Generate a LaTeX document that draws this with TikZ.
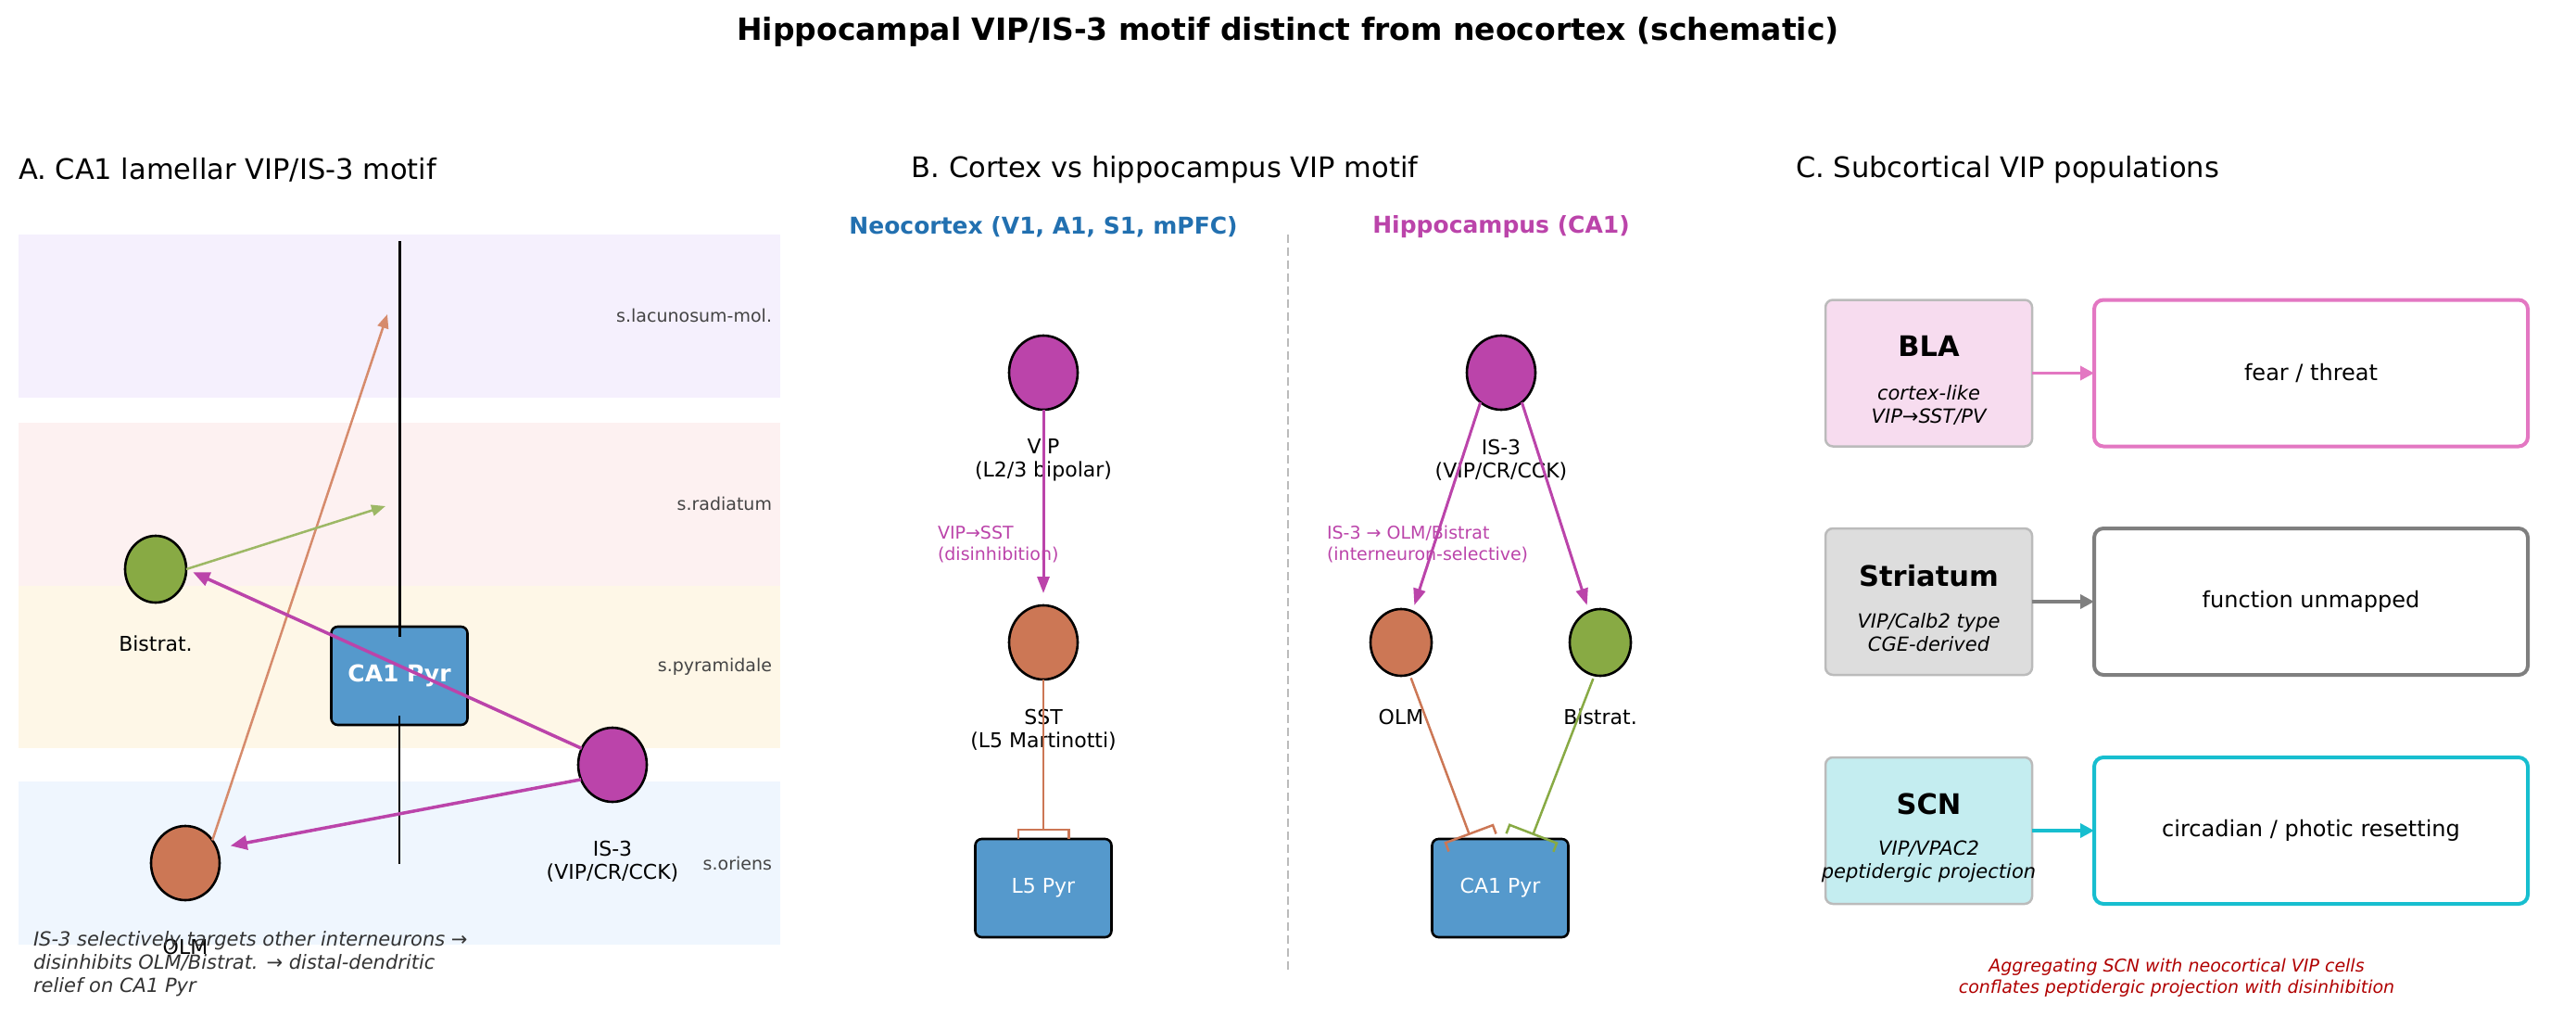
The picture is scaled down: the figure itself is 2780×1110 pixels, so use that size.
\documentclass[tikz,border=0pt]{standalone}
\usepackage{fontspec}
\setmainfont{DejaVu Sans}
\usetikzlibrary{arrows.meta,shapes.geometric,calc}
\definecolor{mag}{HTML}{BB44AA}
\definecolor{olmc}{HTML}{CC7755}
\definecolor{olml}{HTML}{D68B6C}
\definecolor{bisc}{HTML}{88AA44}
\definecolor{bisl}{HTML}{9DB865}
\definecolor{pyrblue}{HTML}{5599CC}
\definecolor{neoblue}{HTML}{2270B0}
\definecolor{bandL}{HTML}{F5F0FD}
\definecolor{bandR}{HTML}{FDF1F1}
\definecolor{bandP}{HTML}{FEF7E7}
\definecolor{bandO}{HTML}{EFF6FE}
\definecolor{laygray}{HTML}{444444}
\definecolor{capgray}{HTML}{333333}
\definecolor{sepgray}{HTML}{BBBBBB}
\definecolor{blaF}{HTML}{F7DCEF}
\definecolor{blaE}{HTML}{E377C2}
\definecolor{strF}{HTML}{DDDDDD}
\definecolor{strE}{HTML}{7F7F7F}
\definecolor{scnF}{HTML}{C4EDF0}
\definecolor{scnE}{HTML}{17BECF}
\definecolor{boxgray}{HTML}{BBBBBB}
\definecolor{warnred}{HTML}{B00000}
\begin{document}
\begin{tikzpicture}[x=1pt,y=-1pt,
  every node/.style={inner sep=0pt, outer sep=0pt},
  ptitle/.style={font=\fontsize{30.5}{36}\selectfont},
  cell/.style={ellipse, draw=black, line width=2.6pt, minimum width=74pt, minimum height=80pt},
  cellsm/.style={cell, minimum width=66pt, minimum height=72pt},
  pyr/.style={rectangle, rounded corners=7pt, draw=black, line width=2.6pt, fill=pyrblue, text=white, minimum width=147pt, minimum height=106pt},
  lay/.style={anchor=east, text=laygray, font=\fontsize{19}{23}\selectfont},
  cl/.style={align=center, font=\fontsize{22}{25}\selectfont},
  hdr/.style={font=\bfseries\fontsize{25}{30}\selectfont},
  note/.style={anchor=west, align=left, text=mag, font=\fontsize{19}{23}\selectfont},
  magA/.style={mag, line width=3.5pt, -{Triangle[length=18pt,width=15pt]}},
  thinA/.style={line width=2.5pt, -{Triangle[length=15pt,width=12pt]}},
  magB/.style={mag, line width=3pt, -{Triangle[length=18pt,width=13pt]}},
  inh/.style={line width=2.5pt, -{Bracket[reversed,width=57pt,length=10pt]}},
  lbox/.style={rectangle, rounded corners=8pt, draw=boxgray, line width=2.5pt, minimum width=223pt, minimum height=158pt},
  rbox/.style={rectangle, rounded corners=10pt, line width=4pt, fill=white, minimum width=468pt, minimum height=158pt, font=\fontsize{24}{28}\selectfont},
  rname/.style={font=\bfseries\fontsize{30.5}{36}\selectfont},
  rsub/.style={align=center, font=\itshape\fontsize{21}{25}\selectfont},
  carrow/.style={line width=3.5pt, -{Triangle[length=15pt,width=15pt]}}
]
\useasboundingbox (0,0) rectangle (2780,1110);
% titles
\node[font=\bfseries\fontsize{33}{40}\selectfont] (title) at (1390,34) {Hippocampal VIP/IS-3 motif distinct from neocortex (schematic)};
\node[ptitle, anchor=west] (tA) at (20,183) {A. CA1 lamellar VIP/IS-3 motif};
\node[ptitle] (tB) at (1257,183) {B. Cortex vs hippocampus VIP motif};
\node[ptitle, anchor=west] (tC) at (1938,183) {C. Subcortical VIP populations};

% ---------- Panel A ----------
\fill[bandL] (20,253) rectangle (842,429);
\fill[bandR] (20,456) rectangle (842,632);
\fill[bandP] (20,632) rectangle (842,807);
\fill[bandO] (20,843) rectangle (842,1019);
\node[lay] (lLM) at (833,340) {s.lacunosum-mol.};
\node[lay] (lRad) at (833,543) {s.radiatum};
\node[lay] (lPyr) at (833,719) {s.pyramidale};
\node[lay] (lOri) at (833,931) {s.oriens};

\node[pyr, font=\bfseries\fontsize{25}{30}\selectfont] (pyrA) at (431,729) {CA1 Pyr};
\coordinate (apTop) at (431,260);
\coordinate (basBot) at (431,932);
\draw[line width=3pt] (apTop) -- ($(pyrA.north)+(0,11)$);
\draw[line width=2pt] ($(pyrA.south)+(0,-10)$) -- (basBot);

\node[cellsm, fill=bisc] (bisA) at (168,614) {};
\node[cell, fill=olmc] (olmA) at (200,931) {};
\node[cell, fill=mag] (isA) at (661,825) {};
\node[cl] (bisAl) at (168,694) {Bistrat.};
\node[cl] (olmAl) at (200,1021) {OLM};
\node[cl] (isAl) at (661,929.5) {IS-3\\(VIP/CR/CCK)};

\coordinate (lmT) at (418,339);
\coordinate (radT) at (416,546);
\draw[thinA, olml] (olmA.40) -- (lmT);
\draw[thinA, bisl] (bisA.east) -- (radT);
\draw[magA, shorten >=8pt] (isA.152) -- (bisA.east);
\draw[magA, shorten >=15pt] (isA.205) -- (olmA.25);

\node[anchor=west, align=left, text=capgray, font=\itshape\fontsize{21}{25}\selectfont] (capA) at (36,1040) {IS-3 selectively targets other interneurons →\\disinhibits OLM/Bistrat. → distal-dendritic\\relief on CA1 Pyr};

% ---------- Panel B ----------
\node[hdr, text=neoblue] (hN) at (1126,245) {Neocortex (V1, A1, S1, mPFC)};
\node[hdr, text=mag] (hH) at (1620,245) {Hippocampus (CA1)};
\coordinate (sepT) at (1390,253);
\coordinate (sepB) at (1390,1046);
\draw[sepgray, line width=1.5pt, dash pattern=on 9pt off 5pt] (sepT) -- (sepB);

\node[cell, fill=mag] (vipB) at (1126,402) {};
\node[cell, fill=olmc] (sstB) at (1126,693) {};
\node[pyr, font=\fontsize{22}{26}\selectfont] (l5B) at (1126,958) {L5 Pyr};
\node[cell, fill=mag] (isB) at (1620,402) {};
\node[cellsm, fill=olmc] (olmB) at (1512,693) {};
\node[cellsm, fill=bisc] (bisB) at (1727,693) {};
\node[pyr, font=\fontsize{22}{26}\selectfont] (caB) at (1619,958) {CA1 Pyr};

\node[cl] (vipBl) at (1126,496.5) {VIP\\(L2/3 bipolar)};
\node[cl] (sstBl) at (1126,787.5) {SST\\(L5 Martinotti)};
\node[cl] (isBl) at (1620,496.5) {IS-3\\(VIP/CR/CCK)};
\node[cl] (olmBl) at (1512,773) {OLM};
\node[cl] (bisBl) at (1727,773) {Bistrat.};
\node[note] (nN) at (1012,587.5) {VIP→SST\\(disinhibition)};
\node[note] (nH) at (1432,587.5) {IS-3 → OLM/Bistrat\\(interneuron-selective)};

\draw[magB, shorten >=13pt] (vipB.south) -- (sstB.north);
\draw[magB, shorten >=7pt] (isB.235) -- (olmB.70);
\draw[magB, shorten >=7pt] (isB.305) -- (bisB.110);

\coordinate (caBl) at (1589,909);
\coordinate (caBr) at (1651,909);
\draw[inh, olmc] (sstB.south) -- (l5B.north);
\draw[inh, olmc, shorten <=4pt] (olmB.285) -- (caBl);
\draw[inh, bisc, shorten <=4pt] (bisB.260) -- (caBr);

% ---------- Panel C ----------
\node[lbox, fill=blaF] (bla) at (2081.5,402.5) {};
\node[rbox, draw=blaE] (blaR) at (2494,402.5) {fear / threat};
\node[rname] (blaN) at (2081.5,373) {BLA};
\node[rsub] (blaS) at (2081.5,436.5) {cortex-like\\VIP→SST/PV};
\draw[carrow, blaE] (bla.east) -- (blaR.west);

\node[lbox, fill=strF] (str) at (2081.5,649) {};
\node[rbox, draw=strE] (strR) at (2494,649) {function unmapped};
\node[rname] (strN) at (2081.5,621) {Striatum};
\node[rsub] (strS) at (2081.5,682.5) {VIP/Calb2 type\\CGE-derived};
\draw[carrow, strE] (str.east) -- (strR.west);

\node[lbox, fill=scnF] (scn) at (2081.5,896) {};
\node[rbox, draw=scnE] (scnR) at (2494,896) {circadian / photic resetting};
\node[rname] (scnN) at (2081.5,867) {SCN};
\node[rsub] (scnS) at (2081.5,929.5) {VIP/VPAC2\\peptidergic projection};
\draw[carrow, scnE] (scn.east) -- (scnR.west);

\node[align=center, text=warnred, font=\itshape\fontsize{19}{23}\selectfont] (warnC) at (2349,1054.5) {Aggregating SCN with neocortical VIP cells\\conflates peptidergic projection with disinhibition};
\end{tikzpicture}
\end{document}
